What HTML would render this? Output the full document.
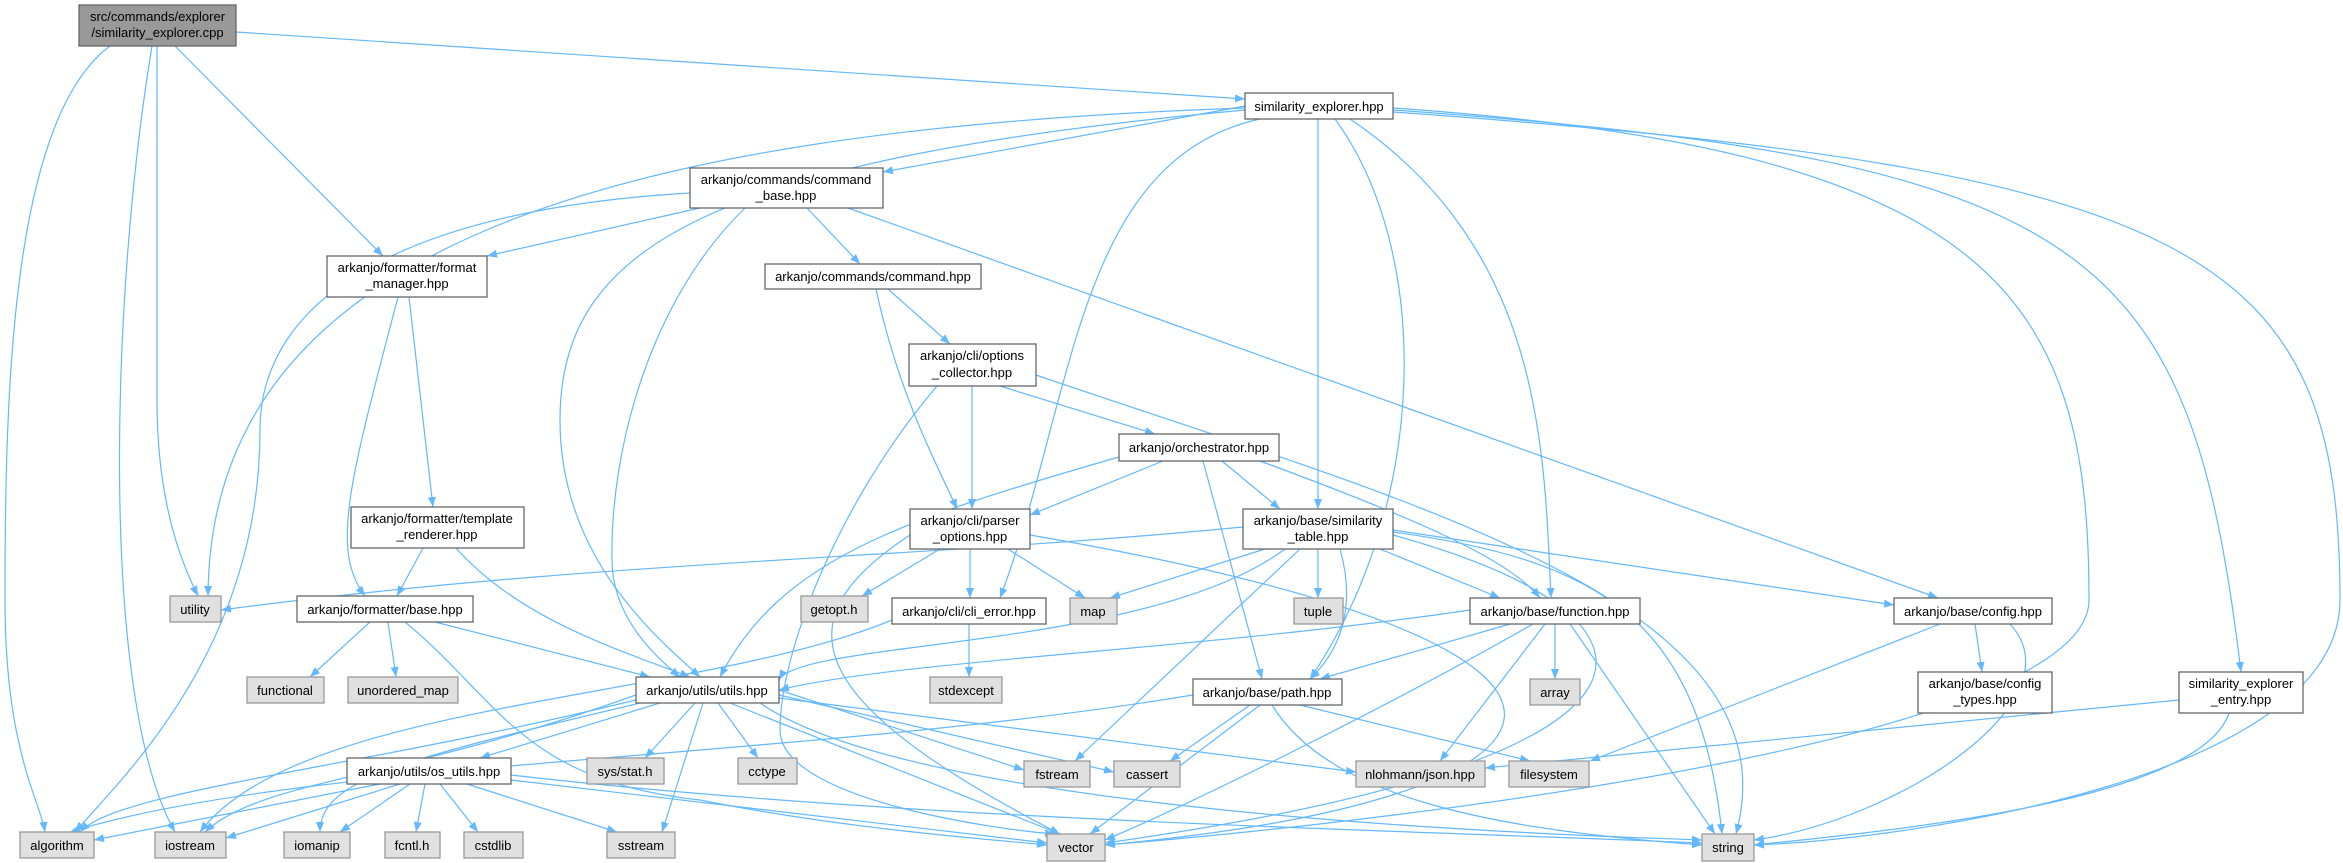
<!DOCTYPE html>
<html><head><meta charset="utf-8"><style>
html,body{margin:0;padding:0;background:#fff;}
svg{display:block}
text{font-family:"Liberation Sans",Arial,sans-serif;font-size:13px;fill:#000}
.n{fill:#fff;stroke:#666;stroke-width:1.3}
.x{fill:#e0e0e0;stroke:#999;stroke-width:1.3}
.r{fill:#999;stroke:#666;stroke-width:1.3}
.e{fill:none;stroke:#63b8ff;stroke-width:1.2;marker-end:url(#a)}
</style></head><body>
<svg width="2343" height="863" viewBox="0 0 2343 863" xmlns="http://www.w3.org/2000/svg">
<defs><marker id="a" markerWidth="10" markerHeight="8" refX="10" refY="4" orient="auto" markerUnits="userSpaceOnUse"><path d="M0,0 L10,4 L0,8 z" fill="#63b8ff"/></marker></defs>
<g>
<path class="e" d="M236,32 L1245,99"/>
<path class="e" d="M1245,106 L883,172"/>
<path class="e" d="M1245,108 C600,130 210,250 208,596"/>
<path class="e" d="M1245,110 C700,160 560,250 560,420 C560,560 660,640 700,677"/>
<path class="e" d="M1260,119 C1075,160 1075,400 1000,598"/>
<path class="e" d="M1318,119 L1318,509"/>
<path class="e" d="M1335,119 C1431,250 1431,500 1310,679"/>
<path class="e" d="M1350,119 C1544,250 1544,450 1551,598"/>
<path class="e" d="M1393,108 C2000,150 2089,300 2089,600 C2089,750 1300,830 1105,845"/>
<path class="e" d="M1393,110 C2100,160 2190,250 2241,672"/>
<path class="e" d="M1393,112 C2200,170 2340,250 2340,600 C2340,780 1900,840 1754,845"/>
<path class="e" d="M110,46 C10,120 5,400 5,600 C5,750 40,800 45,832"/>
<path class="e" d="M152,46 C110,300 100,700 175,832"/>
<path class="e" d="M157,46 L157,400 C157,500 180,560 198,596"/>
<path class="e" d="M175,46 L383,256"/>
<path class="e" d="M690,193 C400,210 260,300 260,430 C260,650 120,780 75,832"/>
<path class="e" d="M700,208 L487,256"/>
<path class="e" d="M745,208 C650,300 610,450 612,560 C612,620 660,660 680,677"/>
<path class="e" d="M807,208 L860,264"/>
<path class="e" d="M848,208 L1938,598"/>
<path class="e" d="M409,297 L433,507"/>
<path class="e" d="M398,297 C350,480 330,550 365,596"/>
<path class="e" d="M423,548 L397,596"/>
<path class="e" d="M456,548 C520,620 620,650 690,677"/>
<path class="e" d="M888,289 L950,344"/>
<path class="e" d="M876,289 C900,400 940,470 957,509"/>
<path class="e" d="M1000,386 L1155,434"/>
<path class="e" d="M972,386 L972,509"/>
<path class="e" d="M937,386 C840,500 780,650 780,730 C780,800 1000,830 1055,834"/>
<path class="e" d="M1036,375 C1400,500 1800,600 1736,834"/>
<path class="e" d="M1163,461 L1030,515"/>
<path class="e" d="M1222,461 L1280,509"/>
<path class="e" d="M1260,461 C1420,520 1510,560 1540,598"/>
<path class="e" d="M1203,461 L1262,679"/>
<path class="e" d="M1119,457 C900,520 780,560 720,677"/>
<path class="e" d="M940,549 L862,596"/>
<path class="e" d="M1008,549 L1085,598"/>
<path class="e" d="M970,549 L970,598"/>
<path class="e" d="M1030,535 C1700,650 1600,800 1105,845"/>
<path class="e" d="M910,535 C780,620 800,700 1060,834"/>
<path class="e" d="M969,624 L969,677"/>
<path class="e" d="M892,620 C700,700 300,700 200,832"/>
<path class="e" d="M1243,527 C900,560 600,560 221,610"/>
<path class="e" d="M1265,549 L1110,598"/>
<path class="e" d="M1318,549 L1318,598"/>
<path class="e" d="M1285,549 C1150,650 800,640 779,680"/>
<path class="e" d="M1300,549 L1075,761"/>
<path class="e" d="M1340,549 C1360,620 1330,660 1310,679"/>
<path class="e" d="M1380,549 L1500,598"/>
<path class="e" d="M1393,530 L1894,605"/>
<path class="e" d="M1393,532 C1600,560 1700,620 1722,834"/>
<path class="e" d="M1393,535 C1700,620 1700,760 1105,843"/>
<path class="e" d="M1470,610 C1200,650 900,660 779,690"/>
<path class="e" d="M1510,624 L1320,679"/>
<path class="e" d="M1555,624 L1555,679"/>
<path class="e" d="M1545,624 L1440,761"/>
<path class="e" d="M1533,624 C1400,700 1200,800 1105,840"/>
<path class="e" d="M1570,624 L1715,834"/>
<path class="e" d="M1975,624 L1982,672"/>
<path class="e" d="M1940,624 L1590,761"/>
<path class="e" d="M2010,624 C2080,700 1900,820 1754,840"/>
<path class="e" d="M2179,700 L1485,768"/>
<path class="e" d="M2229,713 C2200,800 1900,830 1754,845"/>
<path class="e" d="M1193,695 C800,760 300,760 70,832"/>
<path class="e" d="M1250,705 L1170,761"/>
<path class="e" d="M1260,705 L1090,834"/>
<path class="e" d="M1272,705 C1330,800 1500,830 1702,845"/>
<path class="e" d="M1300,705 L1530,761"/>
<path class="e" d="M636,695 C400,780 260,780 205,832"/>
<path class="e" d="M636,700 C350,770 120,790 80,832"/>
<path class="e" d="M660,703 L480,758"/>
<path class="e" d="M695,703 L645,758"/>
<path class="e" d="M718,703 L758,758"/>
<path class="e" d="M703,703 L662,832"/>
<path class="e" d="M730,703 L1060,834"/>
<path class="e" d="M760,703 C900,800 1400,830 1702,840"/>
<path class="e" d="M779,690 L1024,770"/>
<path class="e" d="M779,695 L1114,772"/>
<path class="e" d="M779,698 L1356,772"/>
<path class="e" d="M640,703 C400,760 320,780 320,832"/>
<path class="e" d="M380,784 L94,840"/>
<path class="e" d="M400,784 L226,838"/>
<path class="e" d="M410,784 L340,832"/>
<path class="e" d="M425,784 L416,832"/>
<path class="e" d="M440,784 L478,832"/>
<path class="e" d="M467,784 L617,832"/>
<path class="e" d="M511,780 L1047,843"/>
<path class="e" d="M511,775 C900,820 1400,830 1702,843"/>
<path class="e" d="M370,622 L310,677"/>
<path class="e" d="M388,622 L396,677"/>
<path class="e" d="M435,622 L650,677"/>
<path class="e" d="M405,622 C500,700 520,780 700,800 C850,830 1000,840 1047,845"/>
</g>
<g>
<rect class="r" x="79" y="5" width="157" height="41"/>
<text x="157.5" y="21" text-anchor="middle">src/commands/explorer</text>
<text x="157.5" y="37" text-anchor="middle">/similarity_explorer.cpp</text>

<rect class="n" x="1245" y="93" width="148" height="26"/><text x="1319" y="111" text-anchor="middle">similarity_explorer.hpp</text>
<rect class="n" x="690" y="168" width="193" height="40"/><text x="786" y="184" text-anchor="middle">arkanjo/commands/command</text><text x="786" y="200" text-anchor="middle">_base.hpp</text>
<rect class="n" x="327" y="256" width="160" height="41"/><text x="407" y="272" text-anchor="middle">arkanjo/formatter/format</text><text x="407" y="288" text-anchor="middle">_manager.hpp</text>
<rect class="n" x="765" y="264" width="216" height="25"/><text x="873" y="281" text-anchor="middle">arkanjo/commands/command.hpp</text>
<rect class="n" x="909" y="344" width="127" height="42"/><text x="972" y="360" text-anchor="middle">arkanjo/cli/options</text><text x="972" y="377" text-anchor="middle">_collector.hpp</text>
<rect class="n" x="1119" y="434" width="160" height="27"/><text x="1199" y="452" text-anchor="middle">arkanjo/orchestrator.hpp</text>
<rect class="n" x="351" y="507" width="173" height="41"/><text x="437" y="523" text-anchor="middle">arkanjo/formatter/template</text><text x="437" y="539" text-anchor="middle">_renderer.hpp</text>
<rect class="n" x="910" y="509" width="120" height="40"/><text x="970" y="525" text-anchor="middle">arkanjo/cli/parser</text><text x="970" y="541" text-anchor="middle">_options.hpp</text>
<rect class="n" x="1243" y="509" width="150" height="40"/><text x="1318" y="525" text-anchor="middle">arkanjo/base/similarity</text><text x="1318" y="541" text-anchor="middle">_table.hpp</text>
<rect class="n" x="297" y="596" width="176" height="26"/><text x="385" y="614" text-anchor="middle">arkanjo/formatter/base.hpp</text>
<rect class="x" x="170" y="596" width="51" height="26"/><text x="195" y="614" text-anchor="middle">utility</text>
<rect class="x" x="801" y="596" width="67" height="26"/><text x="834" y="614" text-anchor="middle">getopt.h</text>
<rect class="n" x="892" y="598" width="154" height="26"/><text x="969" y="616" text-anchor="middle">arkanjo/cli/cli_error.hpp</text>
<rect class="x" x="1070" y="598" width="47" height="26"/><text x="1093" y="616" text-anchor="middle">map</text>
<rect class="x" x="1294" y="598" width="49" height="26"/><text x="1318" y="616" text-anchor="middle">tuple</text>
<rect class="n" x="1470" y="598" width="170" height="26"/><text x="1555" y="616" text-anchor="middle">arkanjo/base/function.hpp</text>
<rect class="n" x="1894" y="598" width="158" height="26"/><text x="1973" y="616" text-anchor="middle">arkanjo/base/config.hpp</text>
<rect class="x" x="247" y="677" width="77" height="26"/><text x="285" y="695" text-anchor="middle">functional</text>
<rect class="x" x="348" y="677" width="110" height="26"/><text x="403" y="695" text-anchor="middle">unordered_map</text>
<rect class="n" x="636" y="677" width="143" height="26"/><text x="707" y="695" text-anchor="middle">arkanjo/utils/utils.hpp</text>
<rect class="x" x="930" y="677" width="72" height="26"/><text x="966" y="695" text-anchor="middle">stdexcept</text>
<rect class="n" x="1193" y="679" width="149" height="26"/><text x="1267" y="697" text-anchor="middle">arkanjo/base/path.hpp</text>
<rect class="x" x="1530" y="679" width="50" height="26"/><text x="1555" y="697" text-anchor="middle">array</text>
<rect class="n" x="1918" y="672" width="134" height="41"/><text x="1985" y="688" text-anchor="middle">arkanjo/base/config</text><text x="1985" y="704" text-anchor="middle">_types.hpp</text>
<rect class="n" x="2179" y="672" width="124" height="41"/><text x="2241" y="688" text-anchor="middle">similarity_explorer</text><text x="2241" y="704" text-anchor="middle">_entry.hpp</text>
<rect class="n" x="347" y="758" width="164" height="26"/><text x="429" y="776" text-anchor="middle">arkanjo/utils/os_utils.hpp</text>
<rect class="x" x="587" y="758" width="77" height="26"/><text x="625" y="776" text-anchor="middle">sys/stat.h</text>
<rect class="x" x="738" y="758" width="59" height="26"/><text x="767" y="776" text-anchor="middle">cctype</text>
<rect class="x" x="1024" y="761" width="66" height="26"/><text x="1057" y="779" text-anchor="middle">fstream</text>
<rect class="x" x="1114" y="761" width="66" height="26"/><text x="1147" y="779" text-anchor="middle">cassert</text>
<rect class="x" x="1356" y="761" width="129" height="26"/><text x="1420" y="779" text-anchor="middle">nlohmann/json.hpp</text>
<rect class="x" x="1509" y="761" width="80" height="26"/><text x="1549" y="779" text-anchor="middle">filesystem</text>
<rect class="x" x="20" y="832" width="74" height="26"/><text x="57" y="850" text-anchor="middle">algorithm</text>
<rect class="x" x="155" y="832" width="71" height="26"/><text x="190" y="850" text-anchor="middle">iostream</text>
<rect class="x" x="284" y="832" width="66" height="26"/><text x="317" y="850" text-anchor="middle">iomanip</text>
<rect class="x" x="385" y="832" width="55" height="26"/><text x="412" y="850" text-anchor="middle">fcntl.h</text>
<rect class="x" x="464" y="832" width="59" height="26"/><text x="493" y="850" text-anchor="middle">cstdlib</text>
<rect class="x" x="607" y="832" width="68" height="26"/><text x="641" y="850" text-anchor="middle">sstream</text>
<rect class="x" x="1047" y="834" width="58" height="27"/><text x="1076" y="852" text-anchor="middle">vector</text>
<rect class="x" x="1702" y="834" width="52" height="27"/><text x="1728" y="852" text-anchor="middle">string</text>
</g>
</svg>
</body></html>
